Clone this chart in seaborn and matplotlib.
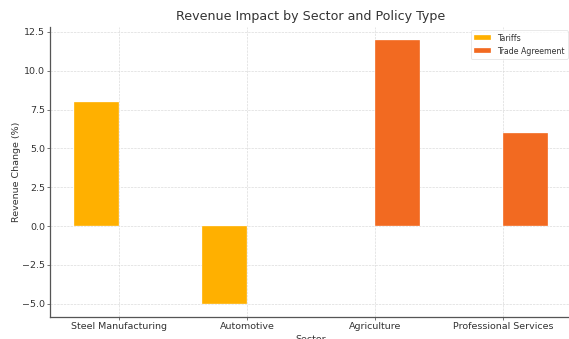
import matplotlib
matplotlib.use('Agg')
import matplotlib.pyplot as plt
import pandas as pd
import seaborn as sns

# data
sectors = ['Steel Manufacturing', 'Automotive', 'Agriculture',
           'Professional Services']
policies = ['Tariffs', 'Tariffs', 'Trade Agreement', 'Trade Agreement']
revenue_change = [8, -5, 12, 6]
policy_order = ['Tariffs', 'Trade Agreement']
palette = {'Tariffs': '#FFB000', 'Trade Agreement': '#F26A21'}

df = pd.DataFrame({'Sector': sectors, 'Policy': policies,
                   'Revenue Change (%)': revenue_change})

sns.set_style('whitegrid')
plt.rcParams['font.family'] = ['DejaVu Sans']

dpi = 56.9
fig = plt.figure(figsize=(569 / dpi, 339 / dpi), dpi=dpi)
ax = fig.add_axes([50 / 569, 22 / 339, 522 / 569, 290.5 / 339])

# bars of width 0.35 dodged either side of each sector
sns.barplot(data=df, x='Sector', y='Revenue Change (%)', hue='Policy',
            hue_order=policy_order, order=sectors, palette=palette,
            width=0.7, dodge=True, saturation=1, ax=ax,
            edgecolor='white', linewidth=0.4)

# axes styling
ax.set_xlim(-0.535, 3.535)
ax.set_ylim(-5.85, 12.85)
ax.set_yticks([-5.0, -2.5, 0.0, 2.5, 5.0, 7.5, 10.0, 12.5])
ax.grid(True, linestyle='--', color='#d8d8d8', linewidth=0.8)
ax.set_axisbelow(True)
for side in ['top', 'right']:
    ax.spines[side].set_visible(False)
for side in ['left', 'bottom']:
    ax.spines[side].set_color('#555555')
    ax.spines[side].set_linewidth(1.6)
ax.tick_params(axis='both', colors='#555555', labelsize=12, length=4,
               width=1, direction='out', left=True, bottom=True, pad=2)
for lbl in ax.get_xticklabels() + ax.get_yticklabels():
    lbl.set_color('#333333')

ax.set_title('Revenue Impact by Sector and Policy Type', fontsize=16,
             color='#333333', pad=8)
ax.set_xlabel('Sector', fontsize=12, color='#333333', labelpad=5)
ax.set_ylabel('Revenue Change (%)', fontsize=12, color='#333333',
              labelpad=2)

leg = ax.legend(title=None, loc='upper right', fontsize=10, frameon=True,
                bbox_to_anchor=(1.0, 1.0), handlelength=2.2,
                handleheight=0.6)
leg.get_frame().set_edgecolor('#dddddd')
for t in leg.get_texts():
    t.set_color('#333333')

fig.savefig('out.png', dpi=dpi)
